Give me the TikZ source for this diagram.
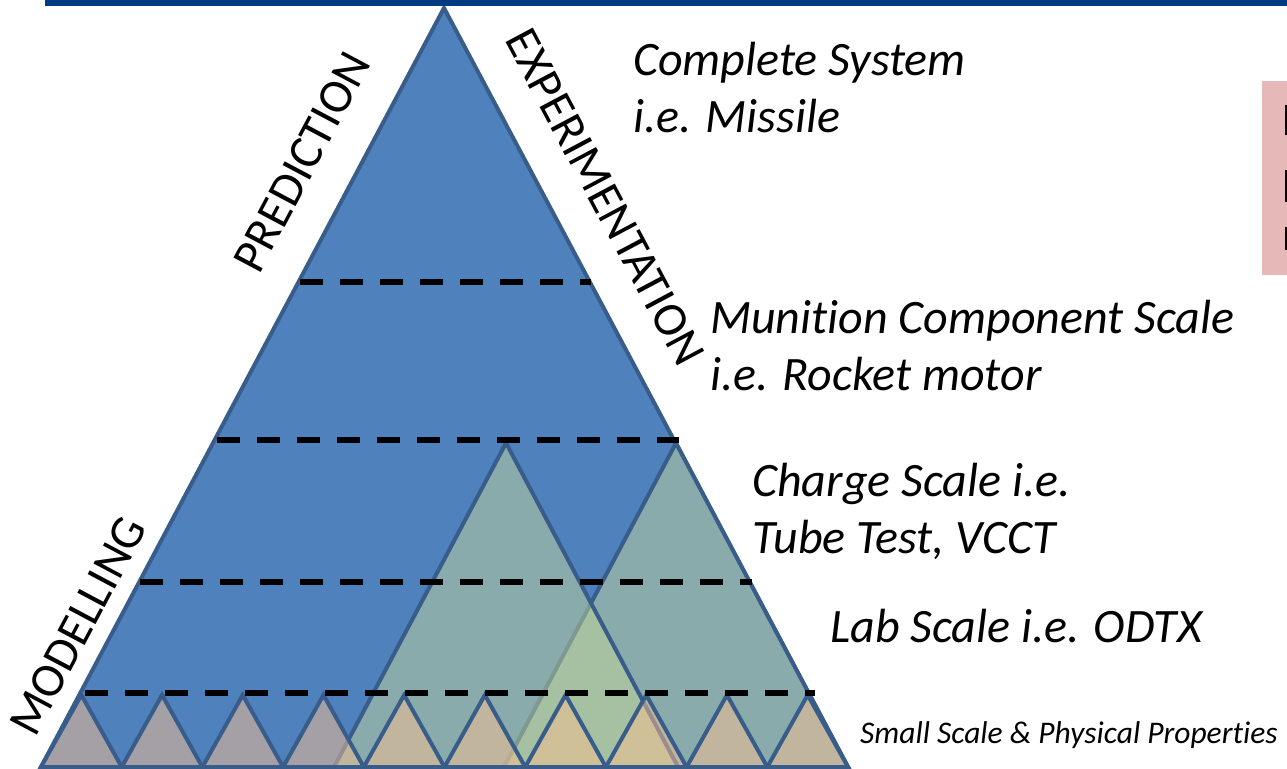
\documentclass[tikz,border=0pt]{standalone}
\usepackage{fontspec}
\setmainfont{Carlito}[Ligatures={NoCommon}]
\usepackage{tikz}
\usetikzlibrary{positioning, calc}

\definecolor{pyrblue}{HTML}{4F81BD}
\definecolor{pyredge}{HTML}{385D8A}
\definecolor{midfill}{HTML}{C3D69B}
\definecolor{smallfill}{HTML}{FAC090}
\definecolor{barblue}{HTML}{003A80}
\definecolor{notepink}{HTML}{E6B9B8}

\tikzset{
  bigtri/.style={fill=pyrblue, draw=pyredge, line width=4pt, line join=miter},
  midtri/.style={fill=midfill, fill opacity=0.5, draw=pyredge, line width=4pt, line join=miter},
  smalltri/.style={fill=smallfill, fill opacity=0.5, draw=pyredge, line width=4pt, line join=miter},
  scaleline/.style={black, line width=5.5pt, dash pattern=on 23pt off 17pt},
  scaletext/.style={font=\fontsize{48}{57}\selectfont\itshape, align=left, anchor=base west, inner sep=0pt},
  sidetext/.style={font=\fontsize{48}{57}\selectfont, inner sep=0pt},
}

\begin{document}
\begin{tikzpicture}[x=1pt, y=-1pt]
  \useasboundingbox (0,0) rectangle (1287,768);

  % the big pyramid
  \coordinate (apex) at (444,8);
  \coordinate (bl) at (41,767);
  \coordinate (br) at (848,767);
  \draw[bigtri] (apex) -- (br) -- (bl) -- cycle;

  % charge scale triangles (right one first)
  \draw[midtri] (676,443) -- (848,767) -- (504,767) -- cycle;
  \draw[midtri] (506,443) -- (678,767) -- (334,767) -- cycle;

  % small scale row
  \foreach \k in {0,...,9}{
    \pgfmathsetmacro{\xl}{41+80.7*\k}
    \draw[smalltri] (\xl,767) -- ++(40.35,-72) -- ++(40.35,72) -- cycle;
  }

  % scale boundaries
  \draw[scaleline] (300,282) -- (591,282);
  \draw[scaleline] (217,440) -- (679,440);
  \draw[scaleline] (140,582) -- (752,582);
  \draw[scaleline] (85,693) -- (815,693);

  % slide header and side note, cut by the frame
  \fill[barblue] (45,0) rectangle (1287,6);
  \fill[notepink] (1262,81) rectangle (1287,275);
  \fill[black] (1285,105) rectangle (1287,135);
  \fill[black] (1285,170) rectangle (1287,202);
  \fill[black] (1285,227) rectangle (1287,250);

  % side labels
  \node[sidetext, rotate=62] (pred) at (302,162) {PREDICTION};
  \node[sidetext, rotate=-62] (expt) at (605,197) {EXPERIMENTATION};
  \node[sidetext, rotate=62] (model) at (78,626) {MODELLING};

  % scale labels (base = last line)
  \node[scaletext] (system) at (633,132) {Complete System\\i.e. Missile};
  \node[scaletext] (munition) at (710,390) {Munition Component Scale\\i.e. Rocket motor};
  \node[scaletext] (charge) at (752,553) {Charge Scale i.e.\\Tube Test, VCCT};
  \node[scaletext] (lab) at (830,642) {Lab Scale i.e. ODTX};
  \node[scaletext, font=\fontsize{31.5}{36}\selectfont\itshape] (small) at (860,743) {Small Scale \& Physical Properties};
\end{tikzpicture}
\end{document}
